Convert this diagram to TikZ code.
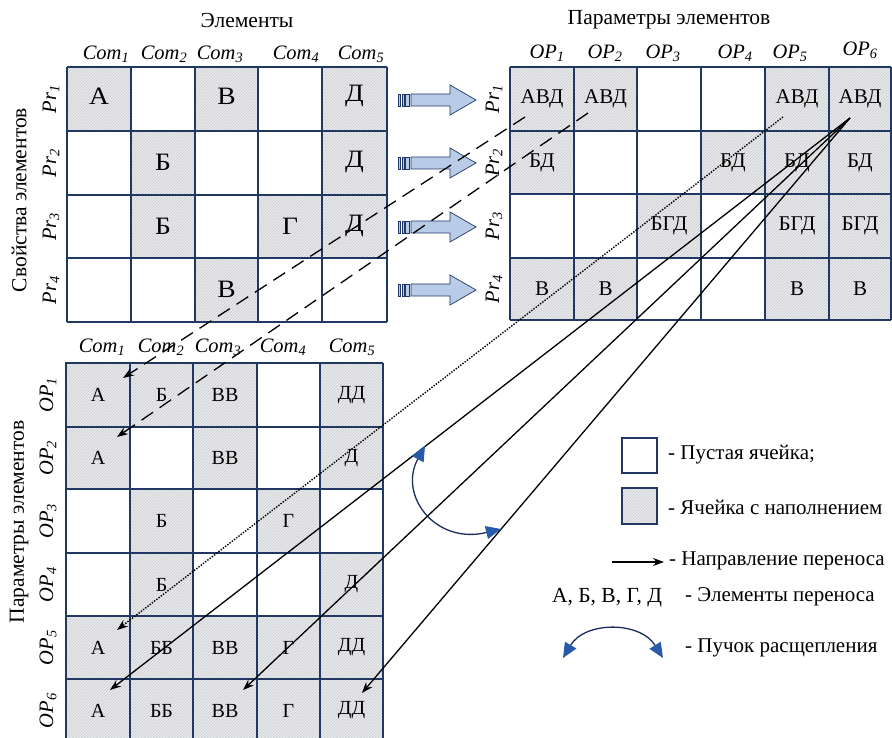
\documentclass[tikz,border=0pt]{standalone}
\usepackage{fontspec}
\setmainfont{Liberation Serif}
\usetikzlibrary{arrows.meta,patterns}
\definecolor{gridblue}{RGB}{31,56,100}
\definecolor{cellgray}{RGB}{232,234,238}
\definecolor{arrowfill}{RGB}{184,204,232}
\definecolor{tipblue}{RGB}{40,90,170}
\definecolor{arcblue}{RGB}{25,45,95}
\newcommand\hcell[4]{\path[fillcell] (#1,#2) rectangle (#3,#4);}
\newcommand\wide[1]{\scalebox{1.1}[1]{#1}}
\newcommand\blockarr[1]{%
  \begin{scope}[shift={(0,#1)}]
  \filldraw[blockstyle] (411,-6) -- (450,-6) -- (450,-15) -- (476,0) -- (450,15) -- (450,6) -- (411,6) -- cycle;
  \filldraw[blockstyle] (398.5,-6) rectangle (400.5,6);
  \filldraw[blockstyle] (402,-6) rectangle (404,6);
  \filldraw[blockstyle] (405.5,-6) rectangle (409,6);
  \end{scope}}
\begin{document}
\begin{tikzpicture}[x=1pt,y=-1pt,
  fillcell/.style={fill=cellgray, postaction={pattern=north east lines, pattern color=gray!40}},
  gridline/.style={draw=gridblue, line width=1.6pt},
  blockstyle/.style={fill=arrowfill, draw=gridblue, line width=0.7pt},
  tlt/.style={font=\fontsize{25}{27}\selectfont, inner sep=0pt},
  trt/.style={font=\fontsize{21}{23}\selectfont, inner sep=0pt},
  bmt/.style={font=\fontsize{20}{22}\selectfont, inner sep=0pt},
  lbl/.style={font=\fontsize{20.5}{22}\selectfont\itshape, inner sep=0pt},
  rlbl/.style={lbl, rotate=90},
  title/.style={font=\fontsize{21.5}{23}\selectfont, inner sep=0pt},
  legtext/.style={font=\fontsize{21}{23}\selectfont, inner sep=0pt, anchor=west},
  transfer/.style={draw=black, line width=1.3pt, -{Stealth[length=11pt,width=8pt]}},
  dashedtr/.style={transfer, dash pattern=on 14pt off 8pt},
  dottedtr/.style={transfer, line width=1.4pt, dash pattern=on 1.4pt off 1.4pt},
  splitarc/.style={draw=arcblue, line width=1.3pt, {Triangle[length=15pt,width=13pt,fill=tipblue,color=tipblue]}-{Triangle[length=15pt,width=13pt,fill=tipblue,color=tipblue]}}
]
\clip (0,0) rectangle (892,738);
\fill[white] (0,0) rectangle (892,738);

% ---------- titles ----------
\node[title] (t1) at (247,20) {Элементы};
\node[title] (t2) at (669,20) {Параметры элементов};
\node[title, rotate=90] (t3) at (19,200) {Свойства элементов};
\node[title, rotate=90] (t4) at (19,522) {Параметры элементов};

% ---------- top-left matrix ----------
\hcell{67}{67}{131}{131} \hcell{195}{67}{258}{131} \hcell{322}{67}{387}{131}
\hcell{131}{131}{195}{195} \hcell{322}{131}{387}{195}
\hcell{131}{195}{195}{258} \hcell{258}{195}{322}{258} \hcell{322}{195}{387}{258}
\hcell{195}{258}{258}{322}
\foreach \x in {67,131,195,258,322,387} \draw[gridline] (\x,67) -- (\x,322);
\foreach \y in {67,131,195,258,322} \draw[gridline] (67,\y) -- (387,\y);
\node[tlt] (tlA1) at (99,96) {\wide{А}};
\node[tlt] (tlV1) at (226.5,96) {\wide{В}};
\node[tlt] (tlD1) at (354.5,96) {\wide{Д}};
\node[tlt] (tlB2) at (163,162) {\wide{Б}};
\node[tlt] (tlD2) at (354.5,162) {\wide{Д}};
\node[tlt] (tlB3) at (163,226) {\wide{Б}};
\node[tlt] (tlG3) at (290,226) {\wide{Г}};
\node[tlt] (tlD3) at (354.5,226) {\wide{Д}};
\node[tlt] (tlV4) at (226.5,289) {\wide{В}};
\node[lbl] (c1) at (106,54) {Com\textsubscript{1}};
\node[lbl] (c2) at (164,54) {Com\textsubscript{2}};
\node[lbl] (c3) at (220,54) {Com\textsubscript{3}};
\node[lbl] (c4) at (296,54) {Com\textsubscript{4}};
\node[lbl] (c5) at (361,54) {Com\textsubscript{5}};
\node[rlbl] (p1) at (51,99) {Pr\textsubscript{1}};
\node[rlbl] (p2) at (51,163) {Pr\textsubscript{2}};
\node[rlbl] (p3) at (51,226.5) {Pr\textsubscript{3}};
\node[rlbl] (p4) at (51,290) {Pr\textsubscript{4}};

% ---------- block arrows ----------
\blockarr{100}
\blockarr{163}
\blockarr{227}
\blockarr{290}

% ---------- top-right matrix ----------
\hcell{510}{67}{574}{131} \hcell{574}{67}{637}{131} \hcell{765}{67}{829}{131} \hcell{829}{67}{891}{131}
\hcell{510}{131}{574}{194} \hcell{701}{131}{765}{194} \hcell{765}{131}{829}{194} \hcell{829}{131}{891}{194}
\hcell{637}{194}{701}{258} \hcell{765}{194}{829}{258} \hcell{829}{194}{891}{258}
\hcell{510}{258}{574}{320} \hcell{574}{258}{637}{320} \hcell{765}{258}{829}{320} \hcell{829}{258}{891}{320}
\foreach \x in {510,574,637,701,765,829,891} \draw[gridline] (\x,67) -- (\x,320);
\foreach \y in {67,131,194,258,320} \draw[gridline] (510,\y) -- (891,\y);
\node[trt] (tr11) at (542,99) {АВД};
\node[trt] (tr12) at (605.5,99) {АВД};
\node[trt] (tr15) at (797,99) {АВД};
\node[trt] (tr16) at (860,99) {АВД};
\node[trt] (tr21) at (542,162.5) {БД};
\node[trt] (tr24) at (733,162.5) {БД};
\node[trt] (tr25) at (797,162.5) {БД};
\node[trt] (tr26) at (860,162.5) {БД};
\node[trt] (tr33) at (669,226) {БГД};
\node[trt] (tr35) at (797,226) {БГД};
\node[trt] (tr36) at (860,226) {БГД};
\node[trt] (tr41) at (542,289) {В};
\node[trt] (tr42) at (605.5,289) {В};
\node[trt] (tr45) at (797,289) {В};
\node[trt] (tr46) at (860,289) {В};
\node[lbl] (o1) at (547,53) {OP\textsubscript{1}};
\node[lbl] (o2) at (605,53) {OP\textsubscript{2}};
\node[lbl] (o3) at (663,53) {OP\textsubscript{3}};
\node[lbl] (o4) at (735,53) {OP\textsubscript{4}};
\node[lbl] (o5) at (790,53) {OP\textsubscript{5}};
\node[lbl] (o6) at (860,50) {OP\textsubscript{6}};
\node[rlbl] (q1) at (494,99) {Pr\textsubscript{1}};
\node[rlbl] (q2) at (494,162.5) {Pr\textsubscript{2}};
\node[rlbl] (q3) at (494,226) {Pr\textsubscript{3}};
\node[rlbl] (q4) at (494,289) {Pr\textsubscript{4}};

% ---------- bottom matrix ----------
\hcell{66}{363}{130}{427} \hcell{130}{363}{193}{427} \hcell{193}{363}{257}{427} \hcell{320}{363}{383}{427}
\hcell{66}{427}{130}{489} \hcell{193}{427}{257}{489} \hcell{320}{427}{383}{489}
\hcell{130}{489}{193}{553} \hcell{257}{489}{320}{553}
\hcell{130}{553}{193}{616} \hcell{320}{553}{383}{616}
\hcell{66}{616}{383}{679}
\hcell{66}{679}{383}{745}
\foreach \x in {66,130,193,257,320,383} \draw[gridline] (\x,363) -- (\x,745);
\foreach \y in {363,427,489,553,616,679} \draw[gridline] (66,\y) -- (383,\y);
\draw[gridline, line width=2.4pt] (66,363) rectangle (130,489);
\node[bmt] (b11) at (98,395) {А};
\node[bmt] (b12) at (161.5,395) {Б};
\node[bmt] (b13) at (225,395) {ВВ};
\node[bmt] (b15) at (351.5,395) {ДД};
\node[bmt] (b21) at (98,458) {А};
\node[bmt] (b23) at (225,458) {ВВ};
\node[bmt] (b25) at (351.5,458) {Д};
\node[bmt] (b32) at (161.5,521) {Б};
\node[bmt] (b34) at (288.5,521) {Г};
\node[bmt] (b42) at (161.5,584.5) {Б};
\node[bmt] (b45) at (351.5,584.5) {Д};
\node[bmt] (b51) at (98,647.5) {А};
\node[bmt] (b52) at (161.5,647.5) {ББ};
\node[bmt] (b53) at (225,647.5) {ВВ};
\node[bmt] (b54) at (288.5,647.5) {Г};
\node[bmt] (b55) at (351.5,647.5) {ДД};
\node[bmt] (b61) at (98,710.5) {А};
\node[bmt] (b62) at (161.5,710.5) {ББ};
\node[bmt] (b63) at (225,710.5) {ВВ};
\node[bmt] (b64) at (288.5,710.5) {Г};
\node[bmt] (b65) at (351.5,710.5) {ДД};
\node[lbl] (d1) at (102,347) {Com\textsubscript{1}};
\node[lbl] (d2) at (161,347) {Com\textsubscript{2}};
\node[lbl] (d3) at (218,347) {Com\textsubscript{3}};
\node[lbl] (d4) at (283,347) {Com\textsubscript{4}};
\node[lbl] (d5) at (352,347) {Com\textsubscript{5}};
\node[rlbl] (r1) at (48,395) {OP\textsubscript{1}};
\node[rlbl] (r2) at (48,458) {OP\textsubscript{2}};
\node[rlbl] (r3) at (48,521) {OP\textsubscript{3}};
\node[rlbl] (r4) at (48,584.5) {OP\textsubscript{4}};
\node[rlbl] (r5) at (48,647.5) {OP\textsubscript{5}};
\node[rlbl] (r6) at (48,710.5) {OP\textsubscript{6}};

% ---------- transfer connectors ----------
\coordinate (s1) at (525,117);
\coordinate (s2) at (588,113);
\coordinate (s3) at (783,117);
\coordinate (s4) at (850,118);
\coordinate (e1) at (123,378);
\coordinate (e2) at (117,437);
\coordinate (e3) at (117,630);
\coordinate (e4) at (110,690);
\coordinate (e5) at (243,690);
\coordinate (e6) at (362,693);
\draw[dashedtr] (s1) -- (e1);
\draw[dashedtr] (s2) -- (e2);
\draw[dottedtr] (s3) -- (e3);
\draw[transfer] (s4) -- (e4);
\draw[transfer] (s4) -- (e5);
\draw[transfer] (s4) -- (e6);

% split bundle
\coordinate (a1) at (425,446);
\coordinate (a2) at (501,529);
\draw[splitarc] (a1) .. controls (398,495) and (435,545) .. (a2);

% ---------- legend ----------
\draw[gridline] (622,438) rectangle (657,473);
\node[legtext] (l1) at (668,455) {- Пустая ячейка;};
\path[fillcell] (622,488) rectangle (657,524);
\draw[gridline] (622,488) rectangle (657,524);
\node[legtext] (l2) at (668,507) {- Ячейка с наполнением};
\coordinate (la) at (612,562);
\coordinate (lb) at (664,562);
\draw[transfer] (la) -- (lb);
\node[legtext] (l3) at (669,561) {- Направление переноса};
\node[font=\fontsize{21.5}{23}\selectfont, inner sep=0pt] (l4) at (607,598) {А, Б, В, Г, Д};
\node[legtext] (l5) at (685,597) {- Элементы переноса};
\coordinate (lc) at (563,658);
\coordinate (ld) at (663,658);
\draw[splitarc] (lc) .. controls (585,621) and (640,621) .. (ld);
\node[legtext] (l6) at (685,648) {- Пучок расщепления};
\end{tikzpicture}
\end{document}
